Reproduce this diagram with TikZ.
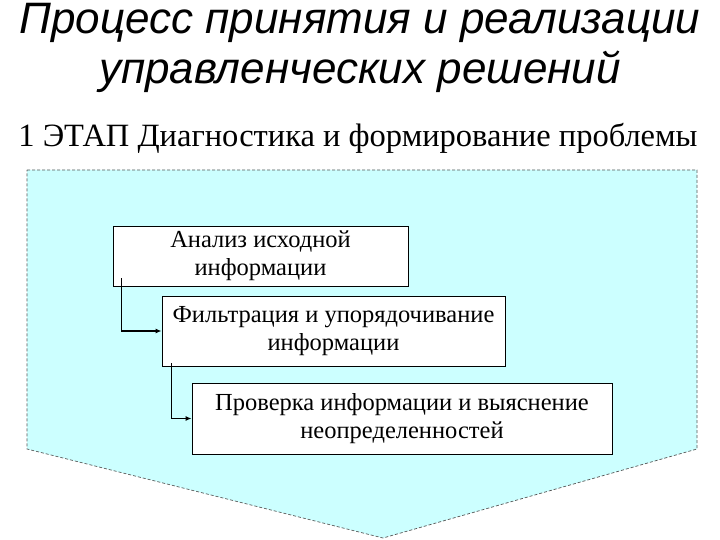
\documentclass[tikz,border=0pt]{standalone}
\usepackage{fontspec}
\setmainfont{Liberation Serif}
\newfontfamily\arialfont{Liberation Sans}
\usetikzlibrary{arrows.meta}
\definecolor{panelcyan}{HTML}{CCFFFF}
\definecolor{dashgrey}{HTML}{555555}
\newcommand\boxlines[1]{\raisebox{-3pt}{\begin{tabular}{@{}c@{}}#1\end{tabular}}}
\tikzset{
  stepbox/.style={draw=black, fill=white, line width=0.8pt, inner sep=0pt, align=center,
    font=\fontsize{24.5}{28}\selectfont},
  link/.style={line width=1.4pt, -{Latex[length=6pt,width=5pt]}},
  panel/.style={draw=dashgrey, fill=panelcyan, dashed, dash pattern=on 3pt off 2pt, line width=0.7pt}
}
\begin{document}
\begin{tikzpicture}[x=1pt,y=-1pt]
\useasboundingbox (0,0) rectangle (720,540);
\fill[white] (0,0) rectangle (720,540);
% titles
\node[font=\arialfont\itshape\fontsize{44}{50}\selectfont, align=center, inner sep=0pt] (title) at (360,48)
  {Процесс принятия и реализации\\управленческих решений};
\node[font=\fontsize{32.5}{36}\selectfont] (stage) at (358,138.5)
  {1 ЭТАП Диагностика и формирование проблемы};
% panel
\coordinate (p1) at (27,170);
\coordinate (p2) at (697,170);
\coordinate (p3) at (697,449);
\coordinate (p4) at (383,538);
\coordinate (p5) at (27,449);
\draw[panel] (p1) -- (p2) -- (p3) -- (p4) -- (p5) -- cycle;
% boxes
\node[stepbox, minimum width=295pt, minimum height=60pt] (b1) at (260.5,256)
  {\boxlines{Анализ исходной\\информации}};
\node[stepbox, minimum width=343pt, minimum height=70pt] (b2) at (333.5,331)
  {\boxlines{Фильтрация и упорядочивание\\информации}};
\node[stepbox, minimum width=420pt, minimum height=71pt] (b3) at (402,418.5)
  {\boxlines{Проверка информации и выяснение\\неопределенностей}};
% connectors
\coordinate (c1) at ([xshift=9pt,yshift=8pt]b1.south west);
\coordinate (c2) at ([xshift=10pt,yshift=3pt]b2.south west);
\draw[link] (c1) |- (b2.west);
\draw[link] (c2) |- (b3.west);
\end{tikzpicture}
\end{document}
